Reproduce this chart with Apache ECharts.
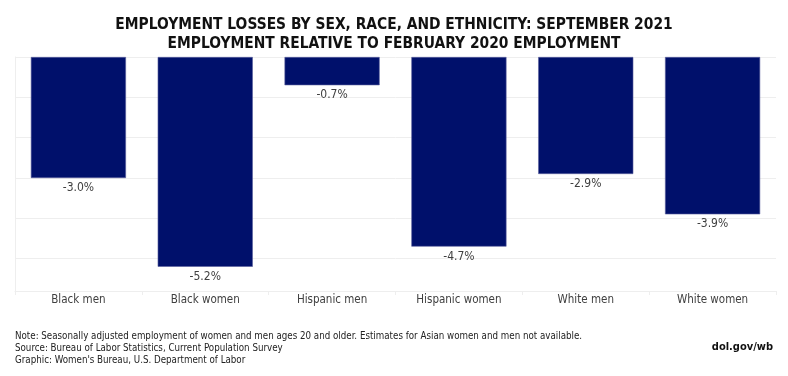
<!DOCTYPE html>
<html>
<head>
<meta charset="utf-8">
<script src="https://cdn.jsdelivr.net/npm/echarts@6/dist/echarts.min.js"></script>
<style>html,body{margin:0;padding:0;background:#fff;}#c{width:788px;height:376px;}</style>
</head>
<body>
<div id="c"></div>
<script>
const categories = ["Black men", "Black women", "Hispanic men", "Hispanic women", "White men", "White women"];
const values = [-3.0, -5.2, -0.7, -4.7, -2.9, -3.9];
const titleLines = ["EMPLOYMENT LOSSES BY SEX, RACE, AND ETHNICITY: SEPTEMBER 2021", "EMPLOYMENT RELATIVE TO FEBRUARY 2020 EMPLOYMENT"];
const notes = [
  "Note: Seasonally adjusted employment of women and men ages 20 and older. Estimates for Asian women and men not available.",
  "Source: Bureau of Labor Statistics, Current Population Survey",
  "Graphic: Women's Bureau, U.S. Department of Labor"
];
const credit = "dol.gov/wb";

const chart = echarts.init(document.getElementById('c'), null, {renderer: 'canvas'});
const txtFont = '"DejaVu Sans Condensed", "DejaVu Sans", sans-serif';
chart.setOption({
  backgroundColor: '#ffffff',
  animation: false,
  title: {
    text: titleLines.join('\n'),
    left: 'center',
    top: 10,
    textStyle: {fontFamily: txtFont, fontWeight: 'bold', fontSize: 15.4, color: '#111', lineHeight: 19}
  },
  graphic: [
    {type: 'text', left: 15, top: 331, style: {text: notes.join('\n'), font: '9.7px ' + txtFont, fill: '#222', lineHeight: 11.7}},
    {type: 'text', right: 15, top: 342, style: {text: credit, font: 'bold 11px ' + txtFont, fill: '#111'}}
  ],
  grid: {left: 15, right: 12, top: 57, bottom: 85, containLabel: false},
  xAxis: {
    type: 'category',
    data: categories,
    axisLine: {onZero: false, lineStyle: {color: '#eeeeee'}},
    axisTick: {show: true, length: 4, lineStyle: {color: '#eeeeee'}},
    axisLabel: {fontFamily: txtFont, fontSize: 11.5, color: '#404040', margin: 3}
  },
  yAxis: {
    type: 'value',
    min: -5.8,
    max: 0,
    splitNumber: 6,
    axisLabel: {show: false},
    axisTick: {show: false},
    axisLine: {show: true, lineStyle: {color: '#eeeeee'}},
    splitLine: {show: true, lineStyle: {color: '#eeeeee', width: 1}}
  },
  series: [{
    type: 'bar',
    data: values,
    barCategoryGap: '25%',
    itemStyle: {color: '#00106b', borderColor: '#5a5f9e', borderWidth: 0.6},
    label: {
      show: true,
      position: 'bottom',
      distance: 4,
      formatter: p => p.value.toFixed(1) + '%',
      fontFamily: txtFont,
      fontSize: 12,
      color: '#404040'
    }
  }]
});
</script>
</body>
</html>
